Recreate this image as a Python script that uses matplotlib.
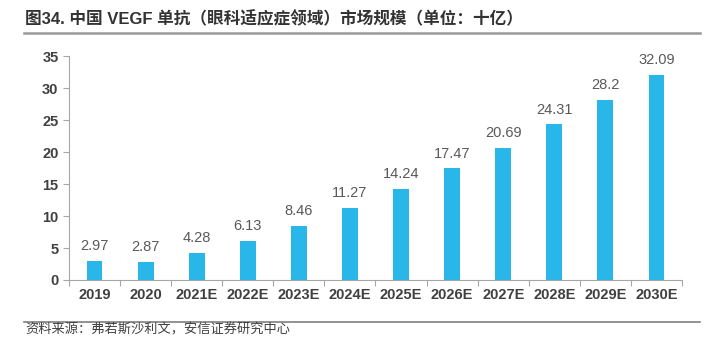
import matplotlib.pyplot as plt
from matplotlib.lines import Line2D

# 数据
years = ["2019", "2020", "2021E", "2022E", "2023E", "2024E", "2025E",
         "2026E", "2027E", "2028E", "2029E", "2030E"]
market_size = [2.97, 2.87, 4.28, 6.13, 8.46, 11.27, 14.24, 17.47, 20.69,
               24.31, 28.2, 32.09]
value_labels = ["2.97", "2.87", "4.28", "6.13", "8.46", "11.27", "14.24",
                "17.47", "20.69", "24.31", "28.2", "32.09"]

title = "图34. 中国 VEGF 单抗（眼科适应症领域）市场规模（单位：十亿）"
source = "资料来源：弗若斯沙利文，安信证券研究中心"

plt.rcParams["font.family"] = ["Liberation Sans", "Noto Sans CJK SC", "DejaVu Sans"]

fig = plt.figure(figsize=(7.09, 3.40), dpi=100)
ax = fig.add_axes([0.0973, 0.1765, 0.8646, 0.6585])

x = range(len(years))
ax.bar(x, market_size, width=0.31, color="#29B6E8")

for xi, v, lab in zip(x, market_size, value_labels):
    ax.text(xi, v + 1.2, lab, ha="center", va="bottom",
            fontsize=10.5, color="#595959")

ax.set_xlim(-0.5, len(years) - 0.5)
ax.set_ylim(0, 35)
ax.set_yticks(range(0, 36, 5))
# 类别之间的分隔刻度
ax.set_xticks([i - 0.5 for i in range(len(years) + 1)], minor=False)
ax.set_xticklabels([])
ax.set_xticks(list(x), minor=True)
ax.set_xticklabels(years, minor=True, fontsize=10.5, fontweight="bold", color="#404040")
ax.tick_params(axis="x", which="major", length=4, color="#A6A6A6")
ax.tick_params(axis="x", which="minor", length=0, pad=6)
ax.tick_params(axis="y", length=4, color="#A6A6A6", labelsize=10.5,
               labelcolor="#404040")
for lab in ax.get_yticklabels():
    lab.set_fontweight("bold")

for side in ["top", "right"]:
    ax.spines[side].set_visible(False)
ax.spines["left"].set_color("#A6A6A6")
ax.spines["bottom"].set_color("#A6A6A6")

# 标题与来源
fig.text(0.035, 0.945, title, fontsize=12, fontweight="bold",
         color="#333333", va="center",
         family=["Liberation Sans", "Noto Sans CJK SC"])
fig.add_artist(Line2D([0.034, 0.988], [0.902, 0.902], color="#999999", lw=1.8))
fig.add_artist(Line2D([0.034, 0.988], [0.054, 0.054], color="#7F7F7F", lw=1.2))
fig.text(0.036, 0.028, source, fontsize=9.5, style="italic", color="#404040",
         va="center", family=["Noto Sans CJK SC"])

fig.savefig("out.png", dpi=100)
